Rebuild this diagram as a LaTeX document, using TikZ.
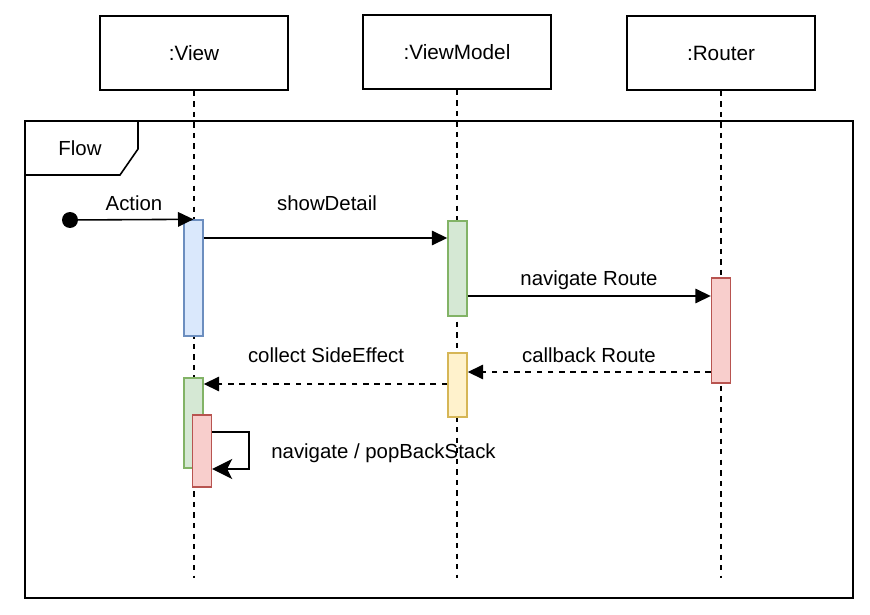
\documentclass[tikz,border=0pt]{standalone}
\usepackage{fontspec}
\setmainfont{Liberation Sans}
\usetikzlibrary{arrows.meta}
\definecolor{bluefill}{HTML}{DAE8FC}
\definecolor{blueline}{HTML}{6C8EBF}
\definecolor{greenfill}{HTML}{D5E8D4}
\definecolor{greenline}{HTML}{82B366}
\definecolor{redfill}{HTML}{F8CECC}
\definecolor{redline}{HTML}{B85450}
\definecolor{yellowfill}{HTML}{FFF2CC}
\definecolor{yellowline}{HTML}{D6B656}
\tikzset{
  head/.style={draw, line width=0.9pt, minimum width=3.76cm, minimum height=1.48cm, inner sep=0pt, font=\fontsize{11.8}{14}\selectfont},
  act/.style={draw, line width=0.8pt, minimum width=0.38cm, inner sep=0pt},
  lifeline/.style={line width=0.9pt, dash pattern=on 3pt off 3pt},
  msg/.style={line width=0.9pt, -{Triangle[length=0.31cm, width=0.29cm]}},
  reply/.style={msg, dash pattern=on 3.2pt off 3.2pt},
  lbl/.style={font=\fontsize{11.6}{14}\selectfont, inner sep=0pt}
}
\begin{document}
\begin{tikzpicture}[x=0.02cm, y=-0.02cm]
      \useasboundingbox (0,0) rectangle (870,615);

      % frame
      \draw[line width=0.9pt] (25,121) rectangle (853,598);
      \draw[line width=0.9pt] (25,175) -- (120,175) -- (138,149) -- (138,121);
      \node[lbl] (flow) at (80,148) {Flow};

      % heads
      \node[head] (view) at (194,53) {:View};
      \node[head] (vm) at (457,52) {:ViewModel};
      \node[head] (router) at (721,53) {:Router};

      \foreach \obj in {view, vm, router}
        \draw[lifeline] (\obj.south) -- (\obj.south |- 0,578);

      % activations
      \node[act, fill=bluefill, draw=blueline, minimum height=2.32cm] (view1) at (193.5,278) {};
      \node[act, fill=greenfill, draw=greenline, minimum height=1.9cm] (vm1) at (457.5,268.5) {};
      \node[act, fill=redfill, draw=redline, minimum height=2.1cm] (router1) at (721,330.5) {};
      \node[act, fill=yellowfill, draw=yellowline, minimum height=1.28cm] (vm2) at (457.5,385) {};
      \node[act, fill=greenfill, draw=greenline, minimum height=1.8cm] (view2) at (193.5,423) {};
      \node[act, fill=redfill, draw=redline, minimum height=1.44cm] (view3) at (202,451) {};

      % message rows
      \coordinate (start) at (70,220);
      \coordinate (rowshow) at (0,238);
      \coordinate (rownav) at (0,296);
      \coordinate (rowback) at (0,372);
      \coordinate (rowcollect) at (0,384);
      \coordinate (rowselfa) at (0,432);
      \coordinate (rowselfb) at (0,469);
      \coordinate (selfx) at (249,0);

      \fill (start) circle (0.16cm);
      \draw[msg] (start) -- (view1.north);
      \draw[msg] (view1.east |- rowshow) -- (vm1.west |- rowshow);
      \draw[msg] (vm1.east |- rownav) -- (router1.west |- rownav);
      \draw[reply] (router1.west |- rowback) -- (vm2.east |- rowback);
      \draw[reply] (vm2.west |- rowcollect) -- (view2.east |- rowcollect);
      \draw[line width=0.9pt, -{Stealth[length=0.4cm, width=0.4cm, inset=0.1cm]}] (view3.east |- rowselfa) -- (selfx |- rowselfa) -- (selfx |- rowselfb) -- (view3.east |- rowselfb);

      % labels
      \node[lbl] (action) at (134,203) {Action};
      \node[lbl] (show) at (327,203) {showDetail};
      \node[lbl] (nav) at (589,280) {navigate Route};
      \node[lbl] (back) at (589,355) {callback Route};
      \node[lbl] (collect) at (326,355) {collect SideEffect};
      \node[lbl, anchor=west] (pop) at (271,453) {navigate / popBackStack};
    \end{tikzpicture}
\end{document}
